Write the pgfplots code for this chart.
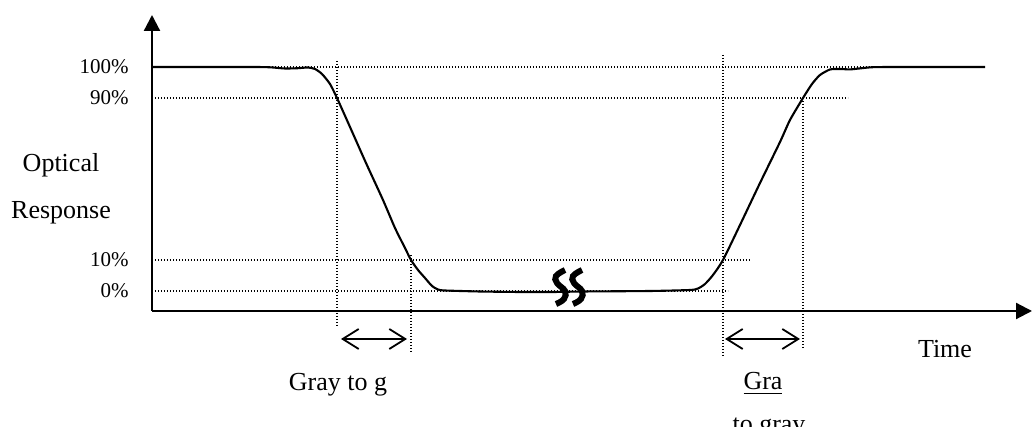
\documentclass[border=0pt]{standalone}
\usepackage{fontspec}
\setmainfont{Liberation Serif}
\usepackage{pgfplots}
\pgfplotsset{compat=1.18}
\usetikzlibrary{arrows.meta}

\pgfplotsset{
  refline/.style={line width=0.75pt, dash pattern=on 0.7pt off 0.8pt},
  response/.style={line width=1.05pt, black, smooth, tension=0.4, no marks},
}

\begin{document}
\begin{tikzpicture}[x=0.5pt,y=0.5pt]
\path[use as bounding box] (0,0) rectangle (1034,427);
\clip (0,0) rectangle (1034,427);
\begin{axis}[
  at={(76pt,58pt)}, anchor=south west,
  scale only axis, width=440pt, height=148pt,
  xmin=152, xmax=1032, ymin=116, ymax=412,
  axis lines=left,
  axis line style={line width=1.1pt, -{Triangle[length=8pt,width=8pt]}},
  xtick=\empty,
  ytick={136,167,329,360},
  yticklabels={0\%,10\%,90\%,100\%},
  major tick length=0pt,
  yticklabel style={font=\fontsize{10.5}{12}\selectfont, xshift=-11.5pt},
  clip=false,
]

% reference levels and crossing markers
\addplot[refline] coordinates {(152,360) (947,360)};
\addplot[refline] coordinates {(152,329) (848,329)};
\addplot[refline] coordinates {(152,167) (750,167)};
\addplot[refline] coordinates {(152,136) (728,136)};
\addplot[refline] coordinates {(337,366) (337,100)};
\addplot[refline] coordinates {(411,172) (411,74)};
\addplot[refline] coordinates {(723,372) (723,70)};
\addplot[refline] coordinates {(803,329) (803,79)};

% optical response
\addplot[response] coordinates {
  (152,360) (250,360) (270,359.7) (285,358.5) (298,358.8) (308,359.5)
  (315,358) (322,353) (330,343) (337,329) (350,300) (366,264)
  (383,227) (395,199) (405,179) (411,167) (418,157) (425,149)
  (432,141) (438,137.5) (445,136.5) (480,135.5) (520,135) (553,135)
  (583,135.5) (650,136) (690,137) (698,138.5) (705,143) (713,152)
  (723,167) (740,202) (760,244) (780,285) (790,307) (803,329)
  (812,343) (820,352) (830,357.5) (840,358) (850,357.6) (860,358.6)
  (873,359.8) (900,360) (985,360)
};

% break symbol
\draw[line width=3pt] plot[smooth, tension=0.7] coordinates
  {(565,157) (556,151) (557,144) (565,136) (564,128) (556,123)};
\draw[line width=3pt] plot[smooth, tension=0.7] coordinates
  {(582,157) (573,151) (574,144) (582,136) (581,128) (573,123)};

% response-time arrows
\draw[line width=0.9pt, {Straight Barb[length=8pt,width=10pt]}-{Straight Barb[length=8pt,width=10pt]}]
  (341,88) -- (407,88);
\draw[line width=0.9pt, {Straight Barb[length=8pt,width=10pt]}-{Straight Barb[length=8pt,width=10pt]}]
  (725,88) -- (800,88);

% labels
\tikzset{every node/.append style={font=\fontsize{13}{15}\selectfont, inner sep=0pt}}
\node at (61,262) {Optical};
\node at (61,214) {Response};
\node[anchor=base] at (945,69) {Time};
\node[anchor=base] at (338,36) {Gray to g};
\node[anchor=base] at (763,37) {\underline{Gra}};
\node[anchor=base] at (769,-6) {to gray};
\end{axis}
\end{tikzpicture}
\end{document}
